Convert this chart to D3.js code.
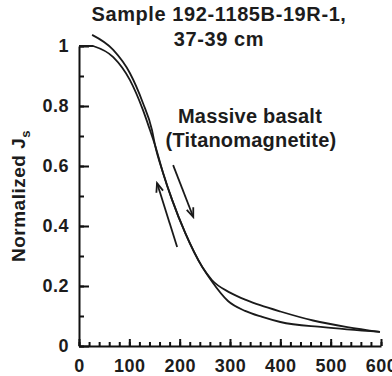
<!DOCTYPE html>
<html>
<head>
<meta charset="utf-8">
<script src="https://cdn.jsdelivr.net/npm/d3@7"></script>
<style>
  body { margin: 0; background: #fff; }
  text { font-family: "Liberation Sans", Arial, Helvetica, sans-serif; font-weight: bold; fill: #1c1c1c; }
</style>
</head>
<body>
<div class="chart"></div>
<script>
// tick values
var xMajor = [0, 100, 200, 300, 400, 500, 600];
var yMajor = [0, 0.2, 0.4, 0.6, 0.8, 1];

// curve A (starts above 1, slower decay at high T)
var aTemp = [26, 68, 101, 127, 145, 151, 167, 185, 211, 245, 264, 300, 334, 360, 400, 465, 533, 598];
var aJs   = [1.037, 0.987, 0.91, 0.81, 0.72, 0.67, 0.577, 0.487, 0.377, 0.263, 0.22, 0.178, 0.152, 0.136, 0.115, 0.085, 0.063, 0.047];

// curve B (flat at 1, then drops)
var bTemp = [0, 28, 68, 101, 127, 141, 151, 167, 185, 211, 245, 262, 296, 330, 364, 400, 485, 598];
var bJs   = [1, 1, 0.963, 0.887, 0.787, 0.72, 0.67, 0.577, 0.487, 0.377, 0.263, 0.22, 0.15, 0.117, 0.097, 0.08, 0.063, 0.047];

// arrows [T0, J0, T1, J1] (tail -> head)
var arrowUp   = [195, 0.33, 155, 0.543];
var arrowDown = [187, 0.603, 227, 0.43];

var width = 392, height = 376;
var margin = {top: 46, right: 11, bottom: 30, left: 79};

var svg = d3.select(".chart")
    .append("svg")
    .attr("width", width)
    .attr("height", height);

var x = d3.scaleLinear().domain([0, 600]).range([margin.left, width - margin.right]);
var y = d3.scaleLinear().domain([0, 1]).range([height - margin.bottom, margin.top]);

// minor ticks first
svg.append("g")
    .attr("transform", "translate(0," + y(0) + ")")
    .call(d3.axisBottom(x).tickValues(d3.range(0, 601, 20)).tickSize(-4).tickFormat(""))
    .call(function(g) { g.select(".domain").remove(); });

svg.append("g")
    .attr("transform", "translate(" + x(0) + ",0)")
    .call(d3.axisLeft(y).tickValues(d3.range(0, 1.01, 0.1)).tickSize(-5).tickFormat(""))
    .call(function(g) { g.select(".domain").remove(); });

svg.append("g")
    .attr("transform", "translate(0," + y(0) + ")")
    .call(d3.axisBottom(x).tickValues(xMajor).tickSize(-7).tickSizeOuter(0).tickPadding(13).tickFormat(d3.format("")));

svg.append("g")
    .attr("transform", "translate(" + x(0) + ",0)")
    .call(d3.axisLeft(y).tickValues(yMajor).tickSize(-10).tickSizeOuter(0).tickPadding(10).tickFormat(d3.format("")));

svg.selectAll(".tick line, .domain")
    .attr("stroke", "#111")
    .attr("stroke-width", 2);

svg.selectAll(".tick text")
    .attr("font-size", 18)
    .attr("letter-spacing", 0.5)
    .attr("fill", "#1c1c1c")
    .style("font-family", "'Liberation Sans', Arial, sans-serif")
    .style("font-weight", "bold");

// curves
var line = d3.line()
    .x(function(d) { return x(d[0]); })
    .y(function(d) { return y(d[1]); })
    .curve(d3.curveMonotoneX);

// the flat start of curve B is a straight piece, then the smooth drop
function pathFor(pts) {
    if (pts[0][1] === pts[1][1]) {
        return "M" + x(pts[0][0]) + "," + y(pts[0][1]) + "L" + line(pts.slice(1)).slice(1);
    }
    return line(pts);
}

var curves = [d3.zip(aTemp, aJs), d3.zip(bTemp, bJs)];

svg.selectAll(".curve")
    .data(curves)
    .enter().append("path")
    .attr("class", "curve")
    .attr("d", pathFor)
    .attr("fill", "none")
    .attr("stroke", "#1a1a1a")
    .attr("stroke-width", 1.8);

// arrows
svg.append("defs").append("marker")
    .attr("id", "head")
    .attr("viewBox", "-10 -5 12 10")
    .attr("refX", 0)
    .attr("refY", 0)
    .attr("markerWidth", 12)
    .attr("markerHeight", 10)
    .attr("markerUnits", "userSpaceOnUse")
    .attr("orient", "auto")
    .append("path")
    .attr("d", "M-9,-3.5 L0,0 L-9,3.5")
    .attr("fill", "none")
    .attr("stroke", "#1a1a1a")
    .attr("stroke-width", 1.8);

svg.selectAll(".arrow")
    .data([arrowUp, arrowDown])
    .enter().append("line")
    .attr("class", "arrow")
    .attr("x1", function(d) { return x(d[0]); })
    .attr("y1", function(d) { return y(d[1]); })
    .attr("x2", function(d) { return x(d[2]); })
    .attr("y2", function(d) { return y(d[3]); })
    .attr("stroke", "#1a1a1a")
    .attr("stroke-width", 1.8)
    .attr("marker-end", "url(#head)");

// title
svg.append("text")
    .attr("x", 219).attr("y", 21)
    .attr("text-anchor", "middle")
    .attr("font-size", 20)
    .attr("letter-spacing", 0.6)
    .text("Sample 192-1185B-19R-1,");
svg.append("text")
    .attr("x", 219).attr("y", 46)
    .attr("text-anchor", "middle")
    .attr("font-size", 20)
    .attr("letter-spacing", 0.6)
    .text("37-39 cm");

// annotation
svg.append("text")
    .attr("x", 250).attr("y", 123)
    .attr("text-anchor", "middle")
    .attr("font-size", 20)
    .attr("letter-spacing", 0.2)
    .text("Massive basalt");
svg.append("text")
    .attr("x", 251).attr("y", 147)
    .attr("text-anchor", "middle")
    .attr("font-size", 20)
    .attr("letter-spacing", 0.2)
    .text("(Titanomagnetite)");

// y label
var ylab = svg.append("text")
    .attr("transform", "translate(25,196) rotate(-90)")
    .attr("text-anchor", "middle")
    .attr("font-size", 19)
    .attr("letter-spacing", 0.5);
ylab.append("tspan").text("Normalized J");
ylab.append("tspan").attr("font-size", 13).attr("dy", 5).text("s");
</script>
</body>
</html>
